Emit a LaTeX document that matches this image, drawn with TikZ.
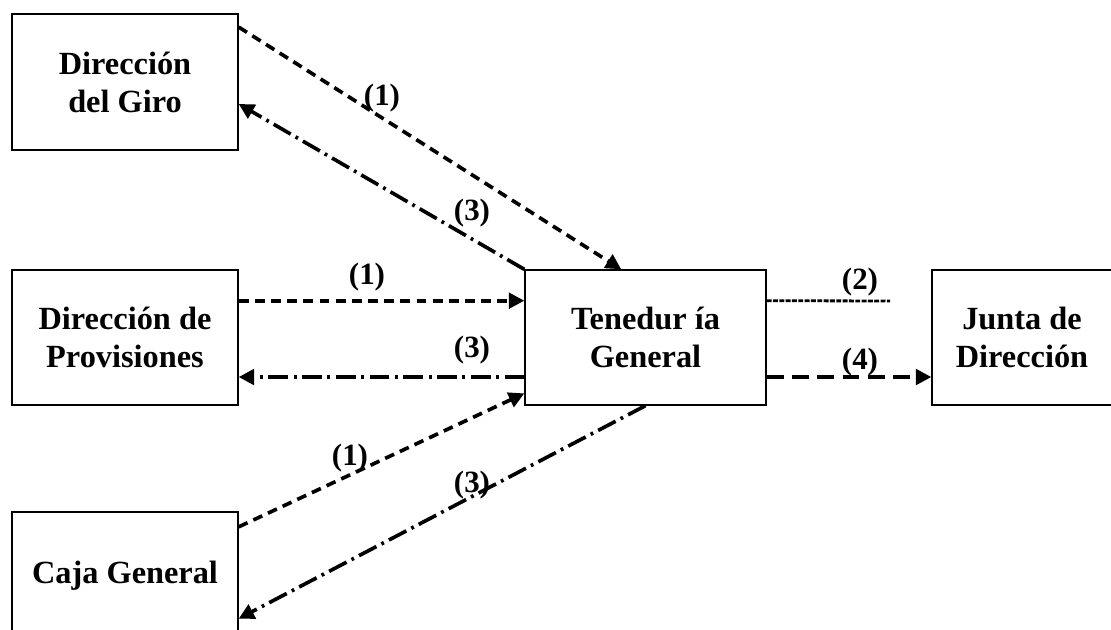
\documentclass[tikz,border=0pt]{standalone}
\usepackage{fontspec}
\setmainfont{Liberation Serif}
\usetikzlibrary{arrows.meta,calc,positioning}
\tikzset{
  unidad/.style={draw, line width=0.9pt, inner sep=0pt, align=center,
    font=\bfseries\fontsize{23}{27}\selectfont},
  num/.style={font=\bfseries\fontsize{22}{24}\selectfont, inner sep=0pt},
  flecha/.style={line width=2.6pt, -{Triangle[length=11pt,width=11pt]}},
  envio/.style={flecha, dash pattern=on 7pt off 4.5pt},
  retorno/.style={flecha, dash pattern=on 14pt off 4pt on 2pt off 4pt},
  informe/.style={flecha, dash pattern=on 12pt off 6pt},
  consulta/.style={line width=2pt, dash pattern=on 3.5pt off 1pt}
}
\begin{document}
\begin{tikzpicture}[x=0.025cm, y=-0.025cm]
	\useasboundingbox (0,0) rectangle (1111,630);
	% unidades
	\node[unidad, minimum width=5.65cm, minimum height=3.4cm] (giro) at (125,82) {Dirección\\del Giro};
	\node[unidad, minimum width=5.65cm, minimum height=3.375cm] (prov) at (125,337.5) {Dirección de\\Provisiones};
	\node[unidad, minimum width=5.65cm, minimum height=3.2cm] (caja) at (125,576) {Caja General};
	\node[unidad, minimum width=6.025cm, minimum height=3.375cm] (ten) at (645.5,337.5) {Tenedur ía\\General};
	\node[unidad, minimum width=4.5cm, minimum height=3.375cm] (junta) at (1022,337.5) {Junta de\\Dirección};
	\coordinate (fin2) at (890,301);
	% flujos
	\draw[envio] ($(giro.north east)!0.1!(giro.south east)$) -- ($(ten.north west)!0.4!(ten.north east)$);
	\draw[retorno] (ten.north west) -- ($(giro.north east)!0.66!(giro.south east)$);
	\draw[envio] ($(prov.north east)!0.23!(prov.south east)$) -- ($(ten.north west)!0.23!(ten.south west)$);
	\draw[retorno] ($(ten.north west)!0.79!(ten.south west)$) -- ($(prov.north east)!0.79!(prov.south east)$);
	\draw[envio] ($(caja.north east)!0.12!(caja.south east)$) -- ($(ten.north west)!0.91!(ten.south west)$);
	\draw[retorno] (ten.south) -- ($(caja.north east)!0.83!(caja.south east)$);
	\draw[consulta] ($(ten.north east)!0.23!(ten.south east)$) -- (fin2);
	\draw[informe] ($(ten.north east)!0.79!(ten.south east)$) -- ($(junta.north west)!0.79!(junta.south west)$);
	% etiquetas
	\node[num] (l1giro) at (382,98) {(1)};
	\node[num] (l3giro) at (472,213) {(3)};
	\node[num] (l1prov) at (367,277) {(1)};
	\node[num] (l3prov) at (472,350) {(3)};
	\node[num] (l1caja) at (350,458) {(1)};
	\node[num] (l3caja) at (472,485) {(3)};
	\node[num] (l2) at (860,282) {(2)};
	\node[num] (l4) at (860,362) {(4)};
\end{tikzpicture}
\end{document}
